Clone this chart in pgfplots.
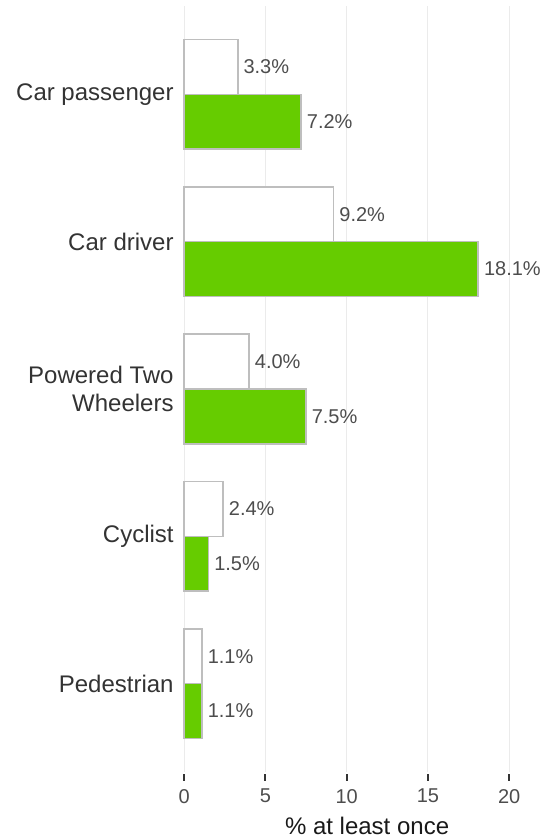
\documentclass[border=0pt]{standalone}
\usepackage{pgfplots}
\pgfplotsset{compat=1.18}
\usepackage{fontspec}
\setmainfont{Liberation Sans}
\definecolor{bargreen}{HTML}{66CC00}
\definecolor{bordergray}{HTML}{BEBEBE}
\definecolor{txtgray}{HTML}{4D4D4D}
\definecolor{labdark}{HTML}{333333}
\definecolor{gridgray}{HTML}{EBEBEB}
\begin{document}
\begin{tikzpicture}
\begin{axis}[
 scale only axis, width=182pt, height=383pt,
 xmin=-0.5, xmax=21.9, ymin=-0.6, ymax=4.6,
 axis line style={draw=none},
 xtick={0,5,10,15,20},
 xtick pos=lower,
 ytick={0,1,2,3,4},
 yticklabels={Pedestrian,Cyclist,{Powered Two\\Wheelers},Car driver,Car passenger},
 yticklabel style={align=right, font=\fontsize{12}{14}\selectfont, text=labdark, inner sep=0pt, xshift=2.5pt},
 ytick style={draw=none},
 xticklabel style={font=\fontsize{10}{12}\selectfont, text=txtgray, yshift=-1.5pt},
 xtick style={draw=labdark, line width=1pt, yshift=-1pt},
 tick align=outside, major tick length=3.5pt,
 xmajorgrids, grid style={gridgray, line width=0.6pt, yshift=0pt},
 /pgf/number format/assume math mode=true,
 xbar, bar width=0.372,
 nodes near coords={\pgfmathprintnumber[fixed,fixed zerofill,precision=1]{\pgfplotspointmeta}\%},
 nodes near coords style={anchor=west, inner sep=0pt, xshift=2.5pt, font=\fontsize{10}{12}\selectfont, text=txtgray},
 xlabel={\% at least once},
 xlabel style={at={(axis description cs:0.525,0)}, anchor=center, yshift=-27pt, font=\fontsize{12}{14}\selectfont, text=black!90},
 clip=false,
]
\addplot[bar shift=0.186, fill=white, draw=bordergray, line width=0.8pt] coordinates {(1.1,0) (2.4,1) (4.0,2) (9.2,3) (3.3,4)};
\addplot[bar shift=-0.186, fill=bargreen, draw=bordergray, line width=0.8pt] coordinates {(1.1,0) (1.5,1) (7.5,2) (18.1,3) (7.2,4)};
\end{axis}
\pgfresetboundingbox
\path ([shift={(-88pt,-34pt)}]current axis.south west) rectangle ([shift={(3.5pt,3pt)}]current axis.north east);
\end{tikzpicture}
\end{document}
